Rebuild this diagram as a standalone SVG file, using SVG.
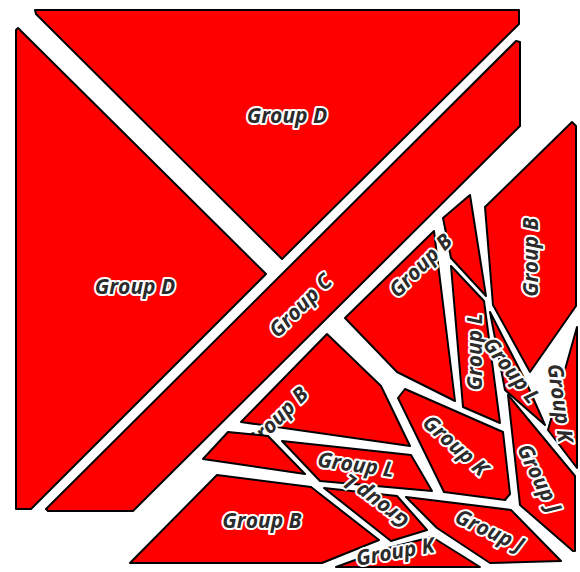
<svg xmlns="http://www.w3.org/2000/svg" width="580" height="572" viewBox="0 0 580 572">
<style>
.c{fill:#ff0000;stroke:#000;stroke-width:2;stroke-linejoin:round}
.t{font-family:"Open Sans","Liberation Sans",sans-serif;font-size:21px;font-weight:bold;font-style:italic;fill:#2b2b2b;stroke:#fff;stroke-width:4;paint-order:stroke;stroke-linejoin:round;text-anchor:middle;dominant-baseline:central}
</style>
<rect width="580" height="572" fill="#fff"/>
<g id="cells">
<g id="d-top"><polygon class="c" points="35,10 519,10 519,24 282,259 36,14"/><text class="t" x="287" y="115">Group D</text></g>
<g id="d-left"><polygon class="c" points="16,30 18,28 266,274 31,509 16,509"/><text class="t" x="135" y="286">Group D</text></g>
<g id="c"><polygon class="c" points="516,41 520,42 520,126 133,511 48,511 46,509"/><text class="t" x="300" y="305" transform="rotate(-45 300 305)">Group C</text></g>
<g id="b-right"><polygon class="c" points="572,122 576,126 576,306 530,372 493,305 485,207"/><text class="t" x="530" y="257" transform="rotate(-90 530 257)">Group B</text></g>
<g id="sliver"><polygon class="c" points="443,218 470,195 486,296 451,258"/></g>
<g id="b-mid"><polygon class="c" points="345,318 434,231 455,401 397,372"/><text class="t" x="420" y="265" transform="rotate(-45 420 265)">Group B</text></g>
<g id="l-vert"><polygon class="c" points="451,266 484,301 500,423 463,407"/><text class="t" x="474" y="352" transform="rotate(-90 474 352)">Group L</text></g>
<g id="l-diag"><polygon class="c" points="490,312 526,382 545,425 505,390"/><text class="t" x="512" y="370" transform="rotate(52 512 370)">Group L</text></g>
<g id="k-right"><polygon class="c" points="577,327 577,468 548,430"/><text class="t" x="561" y="403" transform="rotate(82 561 403)">Group K</text></g>
<g id="k-big"><polygon class="c" points="398,398 405,389 503,432 510,494 505,500 444,492"/><text class="t" x="456" y="445" transform="rotate(42 456 445)">Group K</text></g>
<g id="j-up"><polygon class="c" points="508,395 575,476 575,551 573,551 520,505"/><text class="t" x="540" y="478" transform="rotate(64 540 478)">Group J</text></g>
<g id="j-low"><polygon class="c" points="406,497 511,510 561,561 490,563 437,528"/><text class="t" x="490" y="530" transform="rotate(25 490 530)">Group J</text></g>
<g id="b-low"><polygon class="c" points="327,334 381,386 410,446 241,422"/><text class="t" x="276" y="418" transform="rotate(-45 276 418)">Group B</text></g>
<g id="s1"><polygon class="c" points="203,459 228,432 268,436 305,474"/></g>
<g id="l-hor"><polygon class="c" points="282,441 411,455 432,491 320,481"/><text class="t" x="356" y="464" transform="rotate(8 356 464)">Group L</text></g>
<g id="l-ud"><polygon class="c" points="324,488 397,496 427,530 391,541"/><text class="t" x="375" y="502" transform="rotate(217 375 502)">Group L</text></g>
<g id="b-bot"><polygon class="c" points="217,475 311,487 379,540 322,563 130,563"/><text class="t" x="262" y="520">Group B</text></g>
<g id="k-bot"><polygon class="c" points="336,567 388,548 432,537 480,567"/><text class="t" x="395" y="551" transform="rotate(-10 395 551)">Group K</text></g>
</g>
<g id="connectors"/>
</svg>
